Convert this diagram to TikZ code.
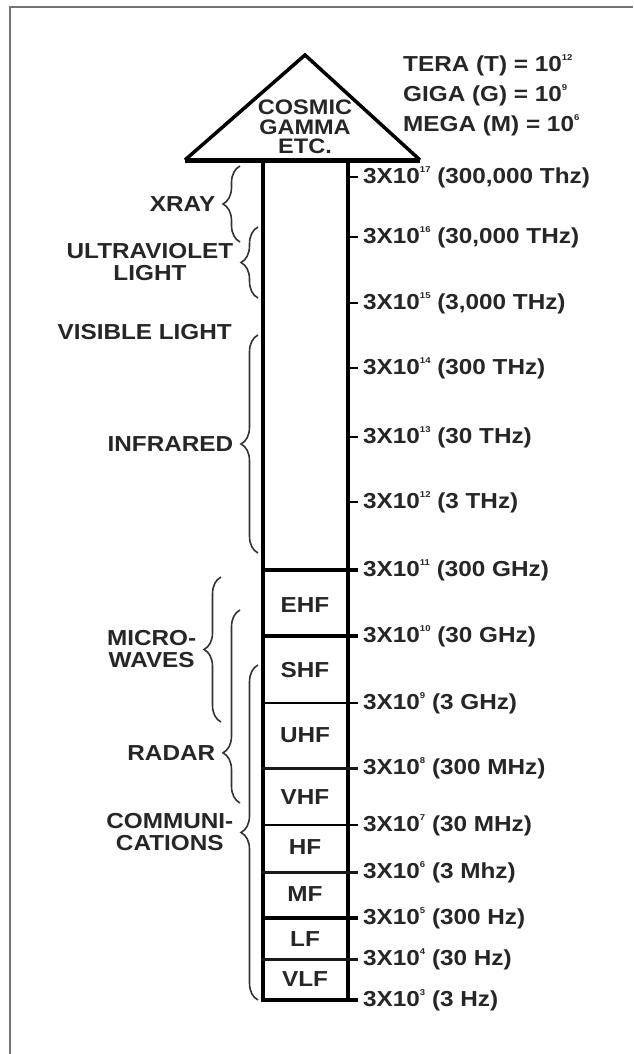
\documentclass[tikz,border=0pt]{standalone}
\usepackage{fontspec}
\setmainfont{Liberation Sans}[FakeStretch=1.12]
\usepackage{tikz}
\usetikzlibrary{calc,positioning,decorations.pathreplacing}
\newcommand{\pw}[1]{\raisebox{11pt}{\fontsize{8.5}{8.5}\selectfont #1}}
\tikzset{%
        every node/.style = {
            font = \fontsize{21.7}{22}\selectfont\bfseries,
            text = black!85,
            inner sep = 0pt
        }
}
\tikzstyle{column}=[
    draw = black,
    line width = 3.5pt,
    minimum width = 85pt,
    minimum height = 840pt
]
\tikzstyle{thick divider}=[draw = black, line width = 3.5pt]
\tikzstyle{mid divider}=[draw = black!90, line width = 3pt]
\tikzstyle{thin divider}=[draw = black, line width = 1.5pt]
\tikzstyle{tick}=[draw = black, line width = 2pt]
\tikzstyle{freq}=[anchor = west]
\tikzstyle{spanbrace}=[
    draw = black!80,
    line width = 1.6pt,
    decorate,
    decoration = {brace, amplitude = 17pt}
]
\tikzstyle{spanlabel}=[align = center, left = 24pt]
\begin{document}
\begin{tikzpicture}[x = 1pt, y = -1pt]
        \useasboundingbox (0,0) rectangle (633,1054);
        % frame
        \draw[black!55, line width = 2.5pt] (10,1054) -- (10,7) -- (633,7);

        % cosmic triangle and column
        \coordinate (apex) at (305,55);
        \coordinate (baseL) at (185,160);
        \coordinate (baseR) at (420,160);
        \draw[line width = 3.5pt] (baseL) -- (apex) -- (baseR);
        \draw[line width = 5pt] (baseL) -- (baseR);
        \node[align = center, font = \fontsize{21}{19.5}\selectfont\bfseries] (cosmic) at (305,127) {COSMIC\\GAMMA\\ETC.};
        \node[column] (col) at (305.5,580) {};

        % prefixes
        \node[freq] (tera) at (403,65) {TERA (T) = 10\pw{12}};
        \node[freq] (giga) at (403,95) {GIGA (G) = 10\pw{9}};
        \node[freq] (mega) at (403,125) {MEGA (M) = 10\pw{6}};

        % frequencies
        \node[freq] (f17) at (363,177) {3X10\pw{17} (300,000 Thz)};
        \node[freq] (f16) at (363,237) {3X10\pw{16} (30,000 THz)};
        \node[freq] (f15) at (363,303) {3X10\pw{15} (3,000 THz)};
        \node[freq] (f14) at (363,368) {3X10\pw{14} (300 THz)};
        \node[freq] (f13) at (363,437) {3X10\pw{13} (30 THz)};
        \node[freq] (f12) at (363,502) {3X10\pw{12} (3 THz)};
        \node[freq] (f11) at (363,570) {3X10\pw{11} (300 GHz)};
        \node[freq] (f10) at (363,636) {3X10\pw{10} (30 GHz)};
        \node[freq] (f9) at (363,703) {3X10\pw{9} (3 GHz)};
        \node[freq] (f8) at (363,768) {3X10\pw{8} (300 MHz)};
        \node[freq] (f7) at (363,825) {3X10\pw{7} (30 MHz)};
        \node[freq] (f6) at (363,872) {3X10\pw{6} (3 Mhz)};
        \node[freq] (f5) at (363,918) {3X10\pw{5} (300 Hz)};
        \node[freq] (f4) at (363,959) {3X10\pw{4} (30 Hz)};
        \node[freq] (f3) at (363,1000) {3X10\pw{3} (3 Hz)};

        % ticks
        \draw[tick] (col.east |- f17.west) -- ++(8,0);
        \draw[tick] (col.east |- f16.west) -- ++(8,0);
        \draw[tick] (col.east |- f15.west) -- ++(8,0);
        \draw[tick] (col.east |- f14.west) -- ++(8,0);
        \draw[tick] (col.east |- f13.west) -- ++(8,0);
        \draw[tick] (col.east |- f12.west) -- ++(8,0);
        \draw[thick divider] (col.west |- f11.west) -- ($(col.east |- f11.west)+(8,0)$);
        \draw[thick divider] (col.west |- f10.west) -- ($(col.east |- f10.west)+(8,0)$);
        \draw[thin divider] (col.west |- f9.west) -- ($(col.east |- f9.west)+(8,0)$);
        \draw[mid divider] (col.west |- f8.west) -- ($(col.east |- f8.west)+(8,0)$);
        \draw[thin divider] (col.west |- f7.west) -- ($(col.east |- f7.west)+(8,0)$);
        \draw[mid divider] (col.west |- f6.west) -- ($(col.east |- f6.west)+(8,0)$);
        \draw[thick divider] (col.west |- f5.west) -- ($(col.east |- f5.west)+(8,0)$);
        \draw[mid divider] (col.west |- f4.west) -- ($(col.east |- f4.west)+(8,0)$);
        \draw[thick divider] (col.east |- f3.west) -- ++(8,0);

        % bands
        \node (ehf) at (305,605) {EHF};
        \node (shf) at (305,670) {SHF};
        \node (uhf) at (305,735) {UHF};
        \node (vhf) at (305,797) {VHF};
        \node (hf) at (305,847) {HF};
        \node (mf) at (305,894) {MF};
        \node (lf) at (305,939) {LF};
        \node (vlf) at (305,979) {VLF};

        % ranges
        \coordinate (xrT) at (240,166);  \coordinate (xrB) at (240,242);
        \coordinate (uvT) at (258,227);  \coordinate (uvB) at (258,298);
        \coordinate (irT) at (258,335);  \coordinate (irB) at (258,553);
        \coordinate (mwT) at (221,577);  \coordinate (mwB) at (221,722);
        \coordinate (rdT) at (240,610);  \coordinate (rdB) at (240,803);
        \coordinate (cmT) at (258,665);  \coordinate (cmB) at (258,1000);
        \draw[spanbrace] (xrB) -- node[spanlabel] (xray) {XRAY} (xrT);
        \draw[spanbrace] (uvB) -- node[spanlabel] (uv) {ULTRAVIOLET\\LIGHT} (uvT);
        \draw[spanbrace] (irB) -- node[spanlabel] (ir) {INFRARED} (irT);
        \draw[spanbrace] (mwB) -- node[spanlabel] (micro) {MICRO-\\WAVES} (mwT);
        \draw[spanbrace, decoration = {aspect = 0.26}] (rdB) -- node[spanlabel, pos = 0.26] (radar) {RADAR} (rdT);
        \draw[spanbrace] (cmB) -- node[spanlabel] (comm) {COMMUNI-\\CATIONS} (cmT);
        \node[anchor = east] (visible) at (232,332) {VISIBLE LIGHT};
    \end{tikzpicture}
\end{document}
